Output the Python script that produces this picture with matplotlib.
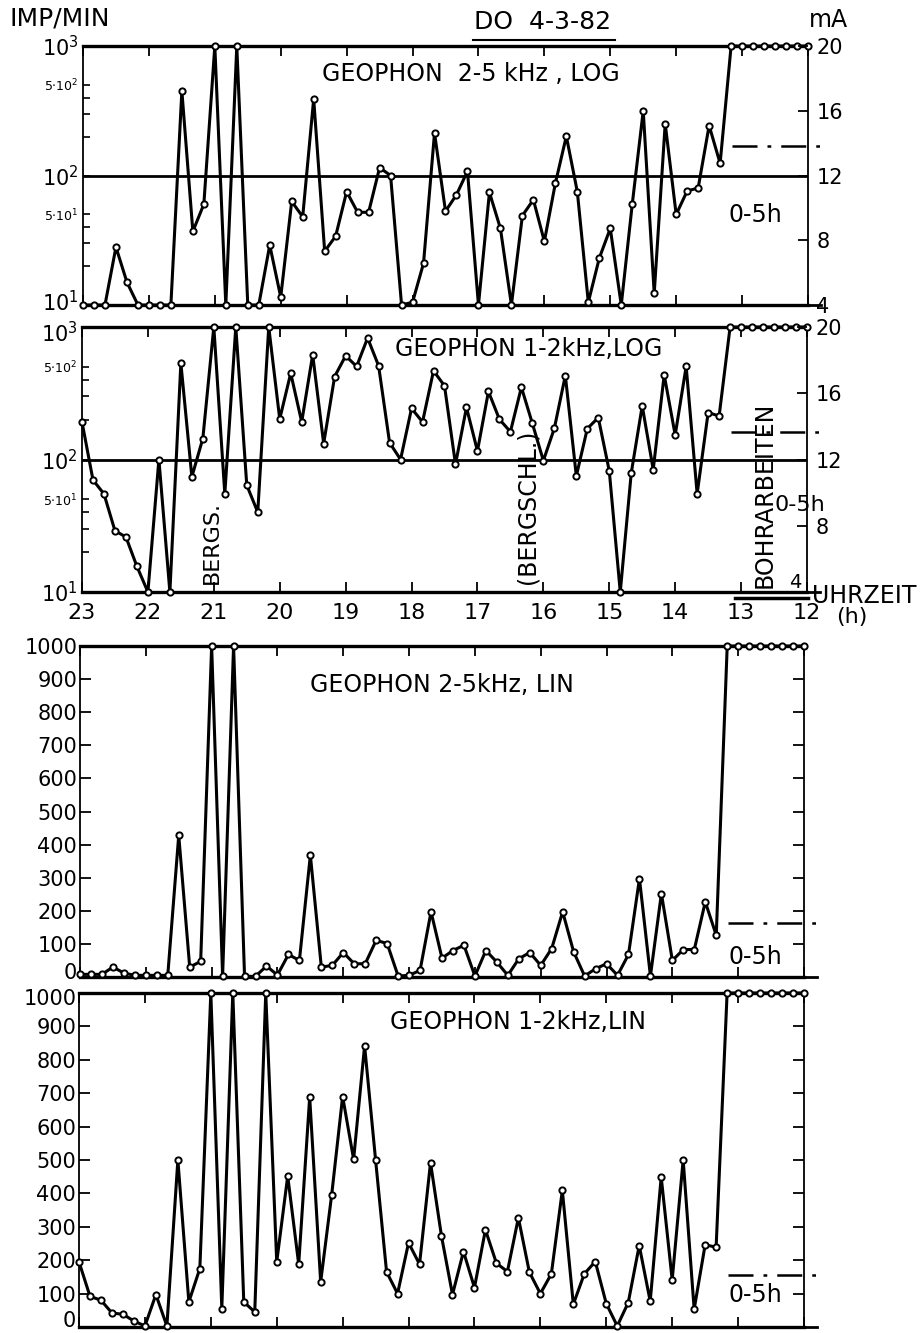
import matplotlib
matplotlib.use('Agg')
import matplotlib.pyplot as plt
from matplotlib.ticker import NullFormatter
from matplotlib.lines import Line2D
import matplotlib.transforms as mtransforms
import numpy as np

W, H = 921, 1333

# time axis: one reading every 10 min, from 23:00 back to 12:00
HOURS = list(range(23, 11, -1))
N_POINTS = 67
times = 23 - np.arange(N_POINTS) / 6.0

# IMP/MIN readings
geo25_log = [10, 10, 10, 28, 15, 10, 10, 10, 10, 450,
             37, 60, 1000, 10, 1000, 10, 10, 29, 11.5, 63,
             48, 390, 26, 34, 75, 52, 52, 115, 100, 10,
             10.5, 21, 213, 53, 71, 108, 10, 74, 39, 10,
             49, 65, 31, 87, 201, 75, 10.5, 23, 39, 10,
             60, 316, 12.3, 251, 50, 76, 80, 243, 124, 1000,
             1000, 1000, 1000, 1000, 1000, 1000, 1000]

geo12_log = [192, 70, 55, 29, 26, 15.6, 10, 100, 10, 534,
             74, 144, 1000, 55, 1000, 64, 40, 1000, 202, 448,
             192, 617, 132, 423, 606, 504, 826, 510, 134, 100,
             243, 192, 467, 360, 92, 247, 116, 326, 201, 162,
             351, 187, 98, 172, 430, 75, 171, 207, 82, 10,
             79, 254, 84, 435, 153, 504, 55, 226, 213, 1000,
             1000, 1000, 1000, 1000, 1000, 1000, 1000]

geo25_lin = [8, 8, 8, 30, 12, 5, 5, 5, 5, 428,
             30, 47, 1000, 3, 1000, 2, 2, 33, 6, 68,
             50, 368, 30, 35, 74, 40, 40, 111, 101, 3,
             5, 20, 197, 57, 80, 96, 3, 80, 45, 5,
             55, 74, 35, 86, 197, 76, 3, 25, 40, 5,
             68, 297, 3, 252, 50, 83, 83, 227, 126, 1000,
             1000, 1000, 1000, 1000, 1000, 1000, 1000]

geo12_lin = [195, 92, 80, 42, 38, 18, 3, 97, 3, 500,
             75, 175, 1000, 55, 1000, 75, 45, 1000, 195, 452,
             188, 688, 135, 395, 690, 502, 842, 500, 165, 100,
             252, 188, 492, 272, 97, 226, 118, 291, 191, 166,
             327, 164, 100, 159, 409, 68, 159, 196, 70, 3,
             73, 244, 77, 449, 141, 500, 53, 246, 239, 1000,
             1000, 1000, 1000, 1000, 1000, 1000, 1000]

# 0-5h threshold level per panel (IMP/MIN)
thresholds = [168, 160, 163, 156]

LOG_TICKS = [10, 50, 100, 500, 1000]
LOG_LABELS = ['$10^{1}$', '$5{\\cdot}10^{1}$', '$10^{2}$', '$5{\\cdot}10^{2}$', '$10^{3}$']
MA_TICKS = [4, 8, 12, 16, 20]
LIN_TICKS = list(range(0, 1001, 100))

plt.rcParams['font.family'] = 'DejaVu Sans'
plt.rcParams['mathtext.default'] = 'regular'

fig = plt.figure(figsize=(W / 100, H / 100), dpi=100, facecolor='white')


def rect(x0, y0, x1, y1):
    return [x0 / W, 1 - y1 / H, (x1 - x0) / W, (y1 - y0) / H]


def ftext(x, y, s, **kw):
    fig.text(x / W, 1 - y / H, s, **kw)


def setup_time_axis(ax):
    ax.set_xlim(23, 12)
    ax.set_xticks(HOURS)
    ax.tick_params(axis='x', direction='in', top=True, bottom=True,
                   length=7, width=1.3, labelbottom=False)
    for s in ('top', 'bottom'):
        ax.spines[s].set_linewidth(2.4)
    for s in ('left', 'right'):
        ax.spines[s].set_linewidth(1.3)


def draw_series(ax, vals):
    ax.plot(times, vals, color='k', lw=2.2, marker='o', ms=4.5,
            mfc='white', mec='k', mew=1.4, clip_on=False, zorder=3)


def extras(ax, thr, bottom):
    # dash-dot threshold and the baseline stub past the right edge
    ax.plot([13.15, 11.8], [thr, thr], color='k', lw=1.8,
            ls=(0, (10, 4, 1.5, 4)), clip_on=False)
    ax.plot([12.0, 11.8], [bottom, bottom], color='k', lw=2.0, clip_on=False)


def log_panel(r, vals, thr, ma_labels=True):
    ax = fig.add_axes(r)
    ax.set_yscale('log')
    ax.set_ylim(10, 1000)
    setup_time_axis(ax)
    ax.set_yticks(LOG_TICKS)
    ax.set_yticklabels(LOG_LABELS)
    for lab, v in zip(ax.get_yticklabels(), LOG_TICKS):
        lab.set_fontsize(9 if v in (50, 500) else 15)
    ax.set_yticks([20, 30, 40, 200, 300, 400], minor=True)
    ax.yaxis.set_minor_formatter(NullFormatter())
    ax.tick_params(axis='y', which='both', direction='in', length=5,
                   width=1.2, pad=3)
    ax.axhline(100, color='k', lw=2.0)
    draw_series(ax, vals)
    extras(ax, thr, 10)

    tw = ax.twinx()
    tw.set_ylim(4, 20)
    tw.set_yticks(MA_TICKS)
    tw.tick_params(axis='y', direction='in', length=7, width=1.3,
                   labelsize=15, pad=6, labelright=ma_labels)
    for s in tw.spines.values():
        s.set_visible(False)
    return ax, tw


def lin_panel(r, vals, thr):
    ax = fig.add_axes(r)
    ax.set_ylim(0, 1000)
    setup_time_axis(ax)
    ax.set_yticks(LIN_TICKS)
    ax.tick_params(axis='y', direction='in', left=True, right=True,
                   length=8, width=1.3, labelsize=15, pad=2)
    draw_series(ax, vals)
    extras(ax, thr, 0)
    return ax


def nudge(label, dy_pt):
    shift = mtransforms.ScaledTranslation(0, dy_pt / 72, fig.dpi_scale_trans)
    label.set_transform(label.get_transform() + shift)


# ---- log panels -------------------------------------------------------------
ax1, tw1 = log_panel(rect(83, 46, 808, 305), geo25_log, thresholds[0])
ax2, tw2 = log_panel(rect(82, 327, 807, 592), geo12_log, thresholds[1])
tw2.set_yticks([8, 12, 16, 20])

ax2.set_xticks(HOURS)
ax2.set_xticklabels([str(h) for h in HOURS])
ax2.tick_params(axis='x', labelbottom=True, labelsize=16, pad=8)

# ---- lin panels -------------------------------------------------------------
ax3 = lin_panel(rect(80, 646, 804, 977), geo25_lin, thresholds[2])
ax4 = lin_panel(rect(79, 993, 804, 1327), geo12_lin, thresholds[3])

# keep the stacked edge labels apart and inside the page
fig.canvas.draw()
nudge(ax1.get_yticklabels()[0], 3)
nudge(ax2.get_yticklabels()[-1], -3)
nudge(ax3.get_yticklabels()[0], 4)
nudge(ax4.get_yticklabels()[-1], -3)
nudge(ax4.get_yticklabels()[0], 6)

# ---- titles and notes -------------------------------------------------------
ftext(322, 74, 'GEOPHON  2-5 kHz , LOG', fontsize=17, va='center')
ftext(395, 349, 'GEOPHON 1-2kHz,LOG', fontsize=17, va='center')
ftext(310, 685, 'GEOPHON 2-5kHz, LIN', fontsize=17, va='center')
ftext(390, 1022, 'GEOPHON 1-2kHz,LIN', fontsize=17, va='center')

ftext(10, 19, 'IMP/MIN', fontsize=18, va='center')
ftext(543, 22, 'DO  4-3-82', fontsize=18, va='center', ha='center')
fig.add_artist(Line2D([473 / W, 615 / W], [1 - 40 / H, 1 - 40 / H],
                      color='k', lw=1.5))
ftext(828, 20, 'mA', fontsize=17, va='center', ha='center')

ftext(755, 215, '0-5h', fontsize=17, va='center', ha='center')
ftext(800, 505, '0-5h', fontsize=16, va='center', ha='center')
ftext(755, 957, '0-5h', fontsize=17, va='center', ha='center')
ftext(755, 1295, '0-5h', fontsize=17, va='center', ha='center')
ftext(795, 583, '4', fontsize=14, va='center', ha='center')

ftext(212, 584, 'BERGS.', fontsize=16, rotation=90, ha='center', va='bottom')
ftext(527, 584, '(BERGSCHL.)', fontsize=17, rotation=90, ha='center', va='bottom')
ftext(765, 588, 'BOHRARBEITEN', fontsize=17, rotation=90, ha='center', va='bottom')

ftext(812, 596, 'UHRZEIT', fontsize=17, va='center', ha='left')
ftext(852, 617, '(h)', fontsize=16, va='center', ha='center')
fig.add_artist(Line2D([735 / W, 808 / W], [1 - 598 / H, 1 - 598 / H],
                      color='k', lw=2.5))

fig.savefig('out.png', dpi=100, facecolor='white')
